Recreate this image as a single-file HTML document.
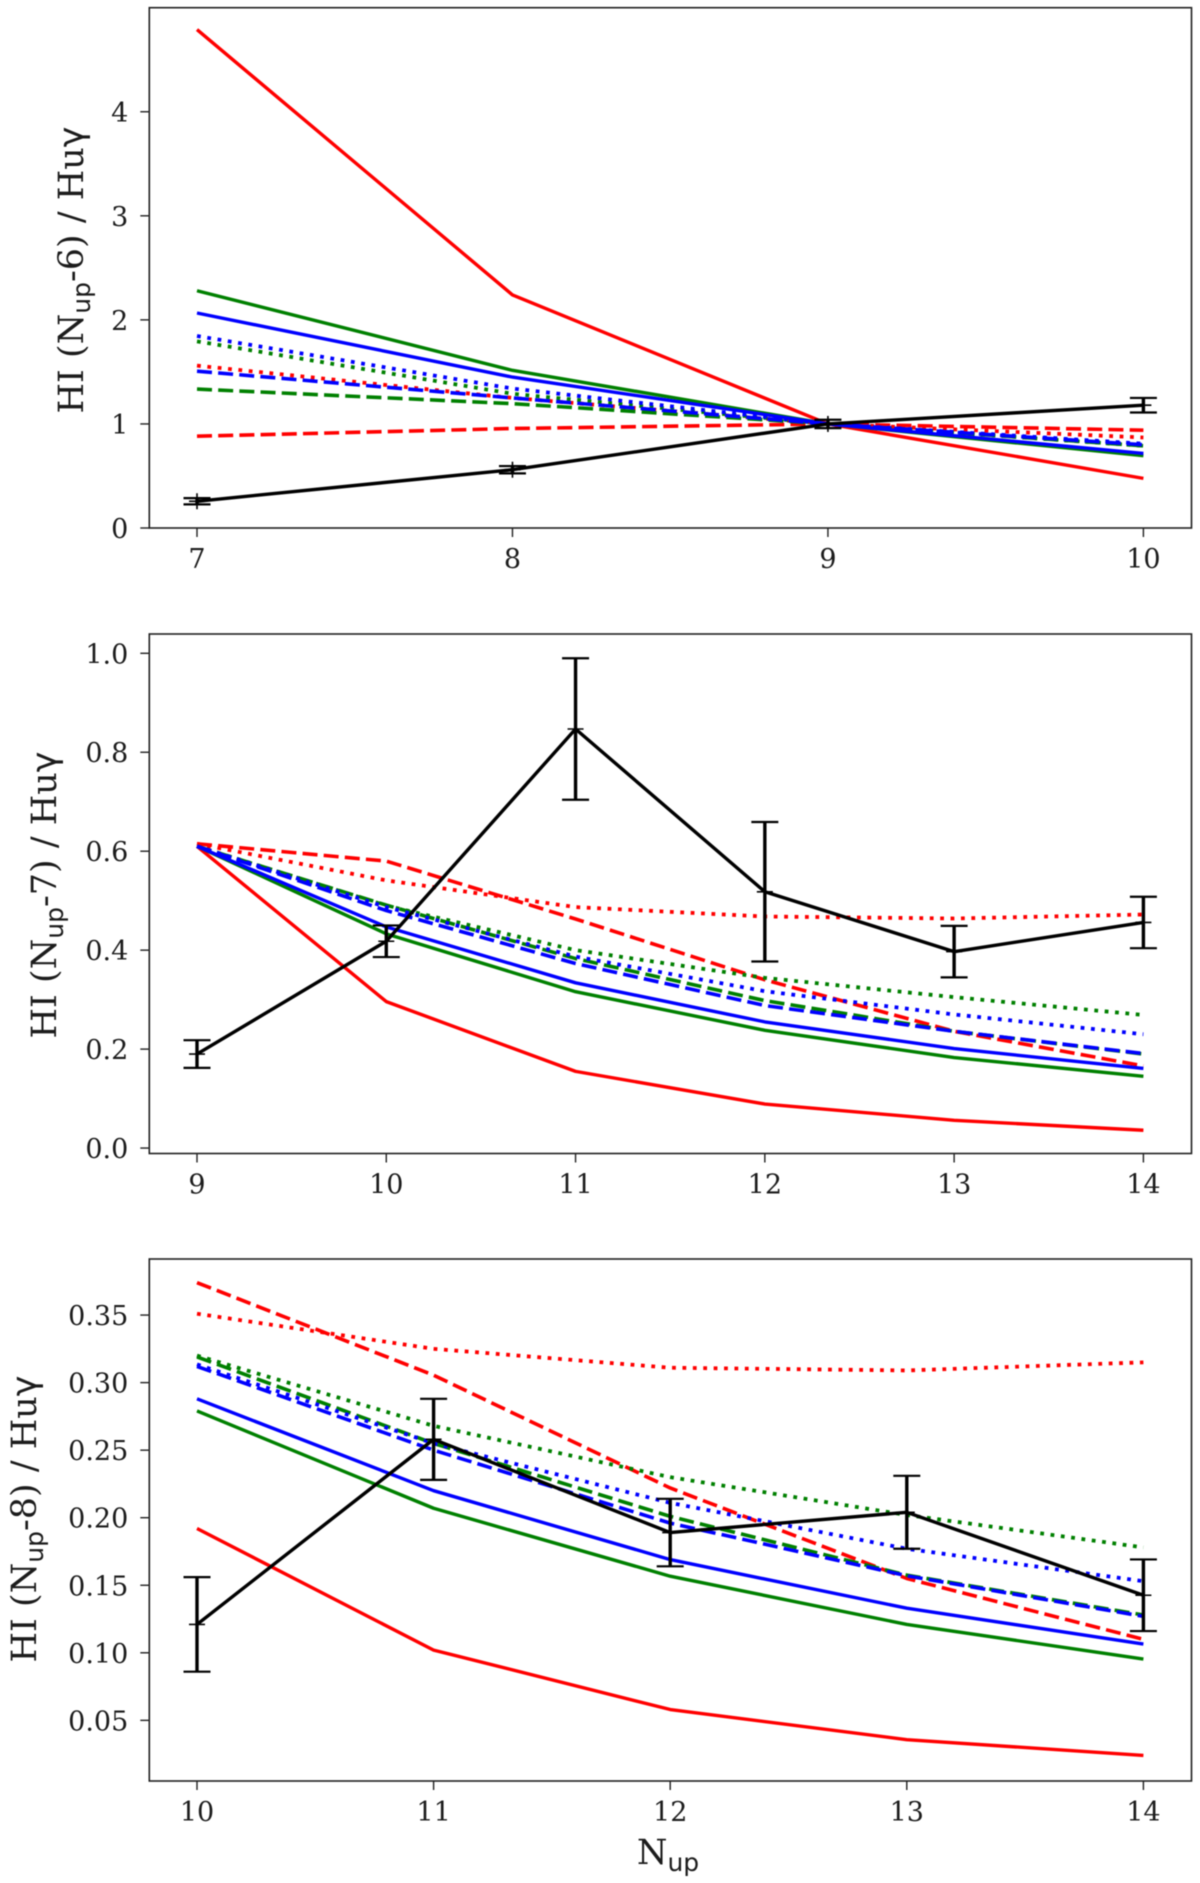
<!DOCTYPE html>
<html lang="en">
<head>
<meta charset="utf-8">
<title>HI line ratios versus Nup</title>
<style>
  html, body { margin: 0; padding: 0; background: #fff; }
  body { width: 1200px; height: 1883px; overflow: hidden; }
  svg { display: block; filter: blur(0.45px); }
  text { font-family: "DejaVu Serif", "Liberation Serif", serif; fill: #1c1c1c; }
  .tick { font-size: 27px; }
  .label { font-size: 35px; }
  .sub { font-family: "DejaVu Sans", "Liberation Sans", sans-serif; font-size: 25px; }
  .greek { font-family: "DejaVu Sans", "Liberation Sans", sans-serif; }
</style>
</head>
<body>
<svg id="figure" xmlns="http://www.w3.org/2000/svg" width="1200" height="1883" viewBox="0 0 1200 1883">
  <text class="label" transform="translate(83 270) rotate(-90)" text-anchor="middle">HI (N<tspan class="sub" dy="7">up</tspan><tspan dy="-7">-6) / Hu</tspan><tspan class="greek">γ</tspan></text>
  <text class="label" transform="translate(56 895) rotate(-90)" text-anchor="middle">HI (N<tspan class="sub" dy="7">up</tspan><tspan dy="-7">-7) / Hu</tspan><tspan class="greek">γ</tspan></text>
  <text class="label" transform="translate(36 1519) rotate(-90)" text-anchor="middle">HI (N<tspan class="sub" dy="7">up</tspan><tspan dy="-7">-8) / Hu</tspan><tspan class="greek">γ</tspan></text>
  <text class="label" x="668" y="1864" text-anchor="middle">N<tspan class="sub" dy="7">up</tspan></text>
</svg>
<script>
// ---- Panel 1: HI (Nup-6) / Huγ ----
const p1Categories = [7, 8, 9, 10];
const p1YTicks = [0, 1, 2, 3, 4];
const p1YTickLabels = ["0", "1", "2", "3", "4"];
const p1RedSolid = [4.79, 2.24, 1.0, 0.477];
const p1RedDashed = [0.882, 0.956, 1.0, 0.94];
const p1RedDotted = [1.56, 1.25, 1.0, 0.87];
const p1GreenSolid = [2.28, 1.515, 1.0, 0.695];
const p1GreenDashed = [1.335, 1.195, 1.0, 0.79];
const p1GreenDotted = [1.794, 1.29, 1.0, 0.79];
const p1BlueSolid = [2.066, 1.45, 1.0, 0.717];
const p1BlueDashed = [1.507, 1.25, 1.0, 0.80];
const p1BlueDotted = [1.845, 1.34, 1.0, 0.81];
const p1Observed = [0.257, 0.56, 1.0, 1.18];
const p1ObservedErr = [0.03, 0.035, 0.04, 0.07];

// ---- Panel 2: HI (Nup-7) / Huγ ----
const p2Categories = [9, 10, 11, 12, 13, 14];
const p2YTicks = [0, 0.2, 0.4, 0.6, 0.8, 1.0];
const p2YTickLabels = ["0.0", "0.2", "0.4", "0.6", "0.8", "1.0"];
const p2RedSolid = [0.61, 0.296, 0.155, 0.089, 0.056, 0.036];
const p2RedDashed = [0.615, 0.58, 0.463, 0.34, 0.236, 0.166];
const p2RedDotted = [0.615, 0.541, 0.487, 0.468, 0.464, 0.472];
const p2GreenSolid = [0.61, 0.433, 0.316, 0.238, 0.183, 0.145];
const p2GreenDashed = [0.61, 0.491, 0.383, 0.298, 0.236, 0.19];
const p2GreenDotted = [0.61, 0.49, 0.40, 0.344, 0.305, 0.269];
const p2BlueSolid = [0.61, 0.447, 0.334, 0.255, 0.201, 0.161];
const p2BlueDashed = [0.61, 0.48, 0.373, 0.288, 0.236, 0.191];
const p2BlueDotted = [0.61, 0.487, 0.387, 0.317, 0.27, 0.23];
const p2Observed = [0.19, 0.418, 0.847, 0.518, 0.397, 0.456];
const p2ObservedErr = [0.028, 0.032, 0.143, 0.141, 0.052, 0.052];

// ---- Panel 3: HI (Nup-8) / Huγ ----
const p3Categories = [10, 11, 12, 13, 14];
const p3YTicks = [0.05, 0.10, 0.15, 0.20, 0.25, 0.30, 0.35];
const p3YTickLabels = ["0.05", "0.10", "0.15", "0.20", "0.25", "0.30", "0.35"];
const p3RedSolid = [0.192, 0.102, 0.058, 0.0357, 0.024];
const p3RedDashed = [0.374, 0.3055, 0.222, 0.155, 0.11];
const p3RedDotted = [0.351, 0.325, 0.311, 0.309, 0.315];
const p3GreenSolid = [0.279, 0.207, 0.1567, 0.121, 0.0954];
const p3GreenDashed = [0.319, 0.255, 0.201, 0.1575, 0.128];
const p3GreenDotted = [0.32, 0.268, 0.23, 0.202, 0.178];
const p3BlueSolid = [0.288, 0.22, 0.169, 0.133, 0.1065];
const p3BlueDashed = [0.312, 0.25, 0.196, 0.157, 0.127];
const p3BlueDotted = [0.3135, 0.255, 0.211, 0.177, 0.153];
const p3Observed = [0.121, 0.258, 0.189, 0.204, 0.1426];
const p3ObservedErr = [0.035, 0.03, 0.025, 0.027, 0.0265];

const svg = document.getElementById('figure');
const NS = 'http://www.w3.org/2000/svg';
const firstLabel = svg.firstChild;

function make(tag, attrs) {
  const el = document.createElementNS(NS, tag);
  for (const k in attrs) el.setAttribute(k, attrs[k]);
  return el;
}

const colors = { red: '#ff0000', green: '#008000', blue: '#0000ff' };
const styles = {
  solid: { dash: null, width: 3.4 },
  dashed: { dash: '15 6.2', width: 3.6 },
  dotted: { dash: '3.8 6.6', width: 3.8 }
};

function drawPanel(id, box, yLim, categories, yTicks, yTickLabels, series, observed, observedErr) {
  const xScale = function (v) {
    return 197 + (v - categories[0]) / (categories[categories.length - 1] - categories[0]) * (1143.4 - 197);
  };
  const yScale = function (v) {
    return box.bottom - (v - yLim[0]) / (yLim[1] - yLim[0]) * (box.bottom - box.top);
  };

  const group = make('g', {});
  
  
  svg.insertBefore(group, firstLabel);

  yTicks.forEach(function (t, i) {
    const y = yScale(t);
    const tick = make('line', { x1: box.left - 9, x2: box.left, y1: y, y2: y, stroke: '#222', 'stroke-width': 1.4 });
    
    
    group.appendChild(tick);
    const label = make('text', { class: 'tick', x: box.left - 21, y: y + 10, 'text-anchor': 'end' });
    label.textContent = yTickLabels[i];
    
    
    group.appendChild(label);
  });

  categories.forEach(function (c) {
    const x = xScale(c);
    const tick = make('line', { x1: x, x2: x, y1: box.bottom, y2: box.bottom + 9, stroke: '#222', 'stroke-width': 1.4 });
    
    
    group.appendChild(tick);
    const label = make('text', { class: 'tick', x: x, y: box.bottom + 40, 'text-anchor': 'middle' });
    label.textContent = String(c);
    
    
    group.appendChild(label);
  });

  series.forEach(function (s) {
    const st = styles[s.style];
    const pts = s.values.map(function (v, i) { return xScale(categories[i]) + ',' + yScale(v); }).join(' ');
    const line = make('polyline', {
      points: pts, fill: 'none', stroke: colors[s.color], 'stroke-width': st.width,
      'stroke-linejoin': 'round', 'stroke-linecap': 'butt'
    });
    if (st.dash) line.setAttribute('stroke-dasharray', st.dash);
    
    
    group.appendChild(line);
  });

  const blackPts = observed.map(function (v, i) { return xScale(categories[i]) + ',' + yScale(v); }).join(' ');
  const blackLine = make('polyline', { points: blackPts, fill: 'none', stroke: '#000', 'stroke-width': 3.4, 'stroke-linejoin': 'round' });
  
  
  group.appendChild(blackLine);

  observed.forEach(function (v, i) {
    const x = xScale(categories[i]);
    const yHi = yScale(v + observedErr[i]);
    const yLo = yScale(v - observedErr[i]);
    const y = yScale(v);
    const bar = make('g', {});
    
    
    bar.appendChild(make('line', { x1: x, x2: x, y1: yHi, y2: yLo, stroke: '#000', 'stroke-width': 3.4 }));
    bar.appendChild(make('line', { x1: x - 13.5, x2: x + 13.5, y1: yHi, y2: yHi, stroke: '#000', 'stroke-width': 2.2 }));
    bar.appendChild(make('line', { x1: x - 13.5, x2: x + 13.5, y1: yLo, y2: yLo, stroke: '#000', 'stroke-width': 2.2 }));
    bar.appendChild(make('line', { x1: x - 8, x2: x + 8, y1: y, y2: y, stroke: '#000', 'stroke-width': 1.6 }));
    bar.appendChild(make('line', { x1: x, x2: x, y1: y - 8, y2: y + 8, stroke: '#000', 'stroke-width': 1.6 }));
    group.appendChild(bar);
  });

  const frame = make('rect', {
    x: box.left, y: box.top, width: box.right - box.left, height: box.bottom - box.top,
    fill: 'none', stroke: '#222', 'stroke-width': 1.6
  });
  
  
  group.appendChild(frame);
}

drawPanel('panel-nup-6', { left: 149.3, right: 1191.5, top: 7.7, bottom: 528 }, [0, 5],
  p1Categories, p1YTicks, p1YTickLabels, [
    { color: 'red', style: 'solid', values: p1RedSolid },
    { color: 'red', style: 'dashed', values: p1RedDashed },
    { color: 'red', style: 'dotted', values: p1RedDotted },
    { color: 'green', style: 'solid', values: p1GreenSolid },
    { color: 'green', style: 'dashed', values: p1GreenDashed },
    { color: 'green', style: 'dotted', values: p1GreenDotted },
    { color: 'blue', style: 'solid', values: p1BlueSolid },
    { color: 'blue', style: 'dashed', values: p1BlueDashed },
    { color: 'blue', style: 'dotted', values: p1BlueDotted }
  ], p1Observed, p1ObservedErr);

drawPanel('panel-nup-7', { left: 149.3, right: 1191.5, top: 634, bottom: 1153.5 }, [-0.011, 1.039],
  p2Categories, p2YTicks, p2YTickLabels, [
    { color: 'red', style: 'solid', values: p2RedSolid },
    { color: 'red', style: 'dashed', values: p2RedDashed },
    { color: 'red', style: 'dotted', values: p2RedDotted },
    { color: 'green', style: 'solid', values: p2GreenSolid },
    { color: 'green', style: 'dashed', values: p2GreenDashed },
    { color: 'green', style: 'dotted', values: p2GreenDotted },
    { color: 'blue', style: 'solid', values: p2BlueSolid },
    { color: 'blue', style: 'dashed', values: p2BlueDashed },
    { color: 'blue', style: 'dotted', values: p2BlueDotted }
  ], p2Observed, p2ObservedErr);

drawPanel('panel-nup-8', { left: 149.3, right: 1191.5, top: 1259, bottom: 1781 }, [0.0051, 0.3915],
  p3Categories, p3YTicks, p3YTickLabels, [
    { color: 'red', style: 'solid', values: p3RedSolid },
    { color: 'red', style: 'dashed', values: p3RedDashed },
    { color: 'red', style: 'dotted', values: p3RedDotted },
    { color: 'green', style: 'solid', values: p3GreenSolid },
    { color: 'green', style: 'dashed', values: p3GreenDashed },
    { color: 'green', style: 'dotted', values: p3GreenDotted },
    { color: 'blue', style: 'solid', values: p3BlueSolid },
    { color: 'blue', style: 'dashed', values: p3BlueDashed },
    { color: 'blue', style: 'dotted', values: p3BlueDotted }
  ], p3Observed, p3ObservedErr);
</script>
</body>
</html>
